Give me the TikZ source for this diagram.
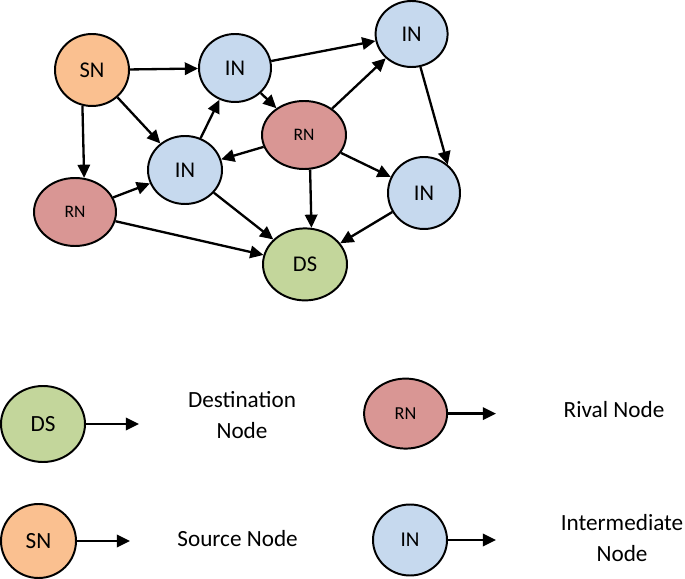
\documentclass[tikz,border=0pt]{standalone}
\usepackage{fontspec}
\setmainfont{Carlito}
\usetikzlibrary{arrows.meta,shapes.geometric}
\definecolor{snorange}{RGB}{250,192,144}
\definecolor{inblue}{RGB}{198,217,238}
\definecolor{rnred}{RGB}{217,150,148}
\definecolor{dsgreen}{RGB}{195,214,155}

\begin{document}
\begin{tikzpicture}[>={Triangle[length=3.3mm,width=3.1mm]},line width=1.65pt,
 every node/.style={font=\fontsize{16}{19}\selectfont},
 nd/.style={ellipse,draw,line width=1.4pt,inner sep=0pt,minimum width=18mm,minimum height=17mm},
 snode/.style={nd,fill=snorange,minimum width=18.5mm,minimum height=18mm},
 inode/.style={nd,fill=inblue},
 rnode/.style={nd,fill=rnred,minimum width=21mm,font=\fontsize{12.5}{15}\selectfont},
 dnode/.style={nd,fill=dsgreen,minimum width=21mm,minimum height=18mm},
 lbl/.style={align=center,font=\fontsize{16.5}{22.5}\selectfont}]
\useasboundingbox(0,0)rectangle(17.125,-14.475);
% network
\node[snode](sn)at(2.3,-1.75){SN};\node[inode](ina)at(5.875,-1.7){IN};
\node[inode,minimum height=16.5mm](inb)at(10.29,-.85){IN};
\node[rnode](rna)at(7.6,-3.375){RN};\node[inode,minimum width=18.5mm](inc)at(4.625,-4.25){IN};
\node[inode,minimum height=18mm](ind)at(10.6,-4.825){IN};
\node[rnode,minimum width=20.5mm](rnb)at(1.875,-5.3){RN};\node[dnode](ds)at(7.625,-6.61){DS};
\draw[->](sn)--(ina);\draw[->](sn)--(inc);\draw[->](sn.255)--(rnb.75);
\draw[->](ina)--(inb);\draw[->](ina)--(rna);\draw[->](inc)--(ina);
\draw[->](rna)--(inb);\draw[->](rna)--(inc);\draw[->](rna)--(ind);\draw[->](rna.280)--(ds.80);
\draw[->](inb.285)--(ind.50);\draw[->](ind)--(ds);\draw[->](inc)--(ds);
\draw[->](rnb)--(inc);\draw[->](rnb)--(ds);
% legend
\node[dnode,minimum height=19mm,font=\fontsize{16.5}{19}\selectfont](dsl)at(1.075,-10.6){DS};
\coordinate(dsa)at(3.475,-10.6);\draw[->](dsl)--(dsa);
\node[lbl](dst)at(6.05,-10.375){Destination\\Node};
\node[rnode,minimum width=20.75mm,minimum height=17.5mm,font=\fontsize{13}{15}\selectfont](rnl)at(10.14,-10.34){RN};
\coordinate(rna2)at(12.4,-10.34);\draw[->](rnl)--(rna2);
\node[lbl](rnt)at(15.35,-10.25){Rival Node};
\node[snode,minimum width=18.75mm,minimum height=18.5mm,font=\fontsize{16.5}{19}\selectfont](snl)at(.9625,-13.525){SN};
\coordinate(sna)at(3.25,-13.525);\draw[->](snl)--(sna);
\node[lbl](snt)at(5.94,-13.475){Source Node};
\node[inode,minimum width=18.5mm,minimum height=17.75mm,font=\fontsize{15}{18}\selectfont](inl)at(10.25,-13.5){IN};
\coordinate(ina2)at(12.4,-13.5);\draw[->](inl)--(ina2);
\node[lbl](int)at(15.55,-13.45){Intermediate\\Node};
\end{tikzpicture}
\end{document}
